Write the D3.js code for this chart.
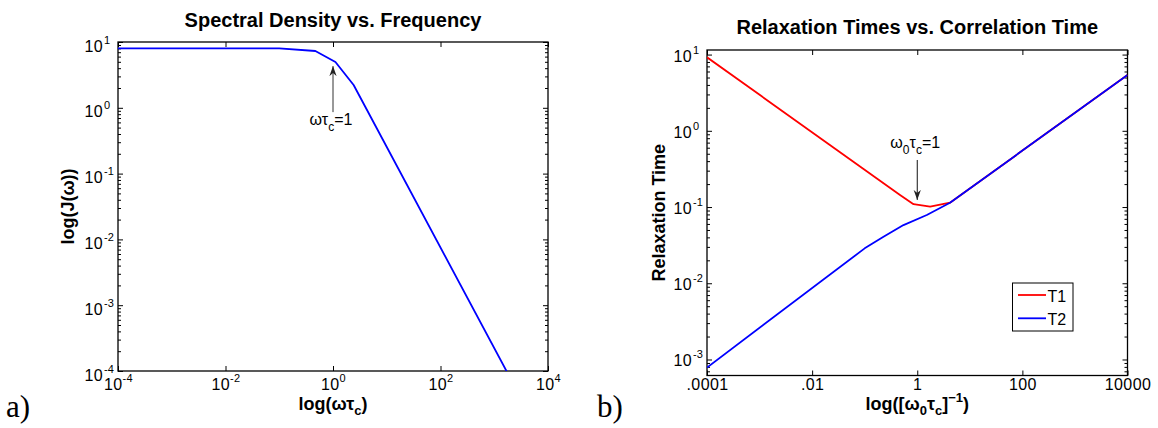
<!DOCTYPE html>
<html><head><meta charset="utf-8">
<script src="https://cdn.jsdelivr.net/npm/d3@7"></script>
<style>
body{margin:0;background:#fff;}
svg text{font-family:"Liberation Sans",Arial,Helvetica,sans-serif;fill:#000;}
</style></head><body>
<svg id="c" width="1158" height="428"></svg>
<script>
// ---- data ----
const specX = [1e-4, 0.1, 0.47, 1.11, 2.42, 1e4];
const specY = [8.0, 8.0, 7.3, 4.97, 2.22, 6.6e-6];
const t1X = [1e-4, 0.47, 0.85, 1.76, 4.2, 1e4];
const t1Y = [9.2, 0.144, 0.109, 0.101, 0.114, 5.4];
const t2X = [1e-4, 0.1, 0.228, 0.547, 1.52, 4.2, 1e4];
const t2Y = [7.85e-4, 0.0287, 0.0407, 0.058, 0.0785, 0.114, 5.4];
const leftXTicks = [1e-4, 1e-2, 1, 1e2, 1e4];
const leftXExp = ["-4", "-2", "0", "2", "4"];
const leftYTicks = [10, 1, 0.1, 0.01, 1e-3, 1e-4];
const leftYExp = ["1", "0", "-1", "-2", "-3", "-4"];
const rightXTicks = [1e-4, 1e-2, 1, 1e2, 1e4];
const rightXLabels = [".0001", ".01", "1", "100", "10000"];
const rightYTicks = [10, 1, 0.1, 0.01, 1e-3];
const rightYExp = ["1", "0", "-1", "-2", "-3"];
const seriesNames = ["T1", "T2"];
const seriesColors = ["#ff0000", "#0000ff"];

const svg = d3.select("#c");
const defs = svg.append("defs");
defs.append("marker").attr("id", "ah").attr("viewBox", "-10 -5 12 10")
  .attr("refX", 0).attr("refY", 0).attr("markerWidth", 12).attr("markerHeight", 10)
  .attr("markerUnits", "userSpaceOnUse").attr("orient", "auto")
  .append("path").attr("d", "M0,0 L-10,-3.6 L-7,0 L-10,3.6 Z").attr("fill", "#222");

function minorTicks(dom) {
  const out = [];
  for (let e = -7; e <= 3; e++) for (let m = 2; m <= 9; m++) {
    const v = m * Math.pow(10, e);
    if (v >= dom[0] && v <= dom[1]) out.push(v);
  }
  return out;
}

function panel(cfg) {
  const g = svg.append("g");
  const x = d3.scaleLog().domain(cfg.xDom).range([cfg.x0, cfg.x1]);
  const y = d3.scaleLog().domain(cfg.yDom).range([cfg.y1, cfg.y0]);
  const cid = "clip" + cfg.name;
  defs.append("clipPath").attr("id", cid).append("rect")
    .attr("x", cfg.x0).attr("y", cfg.y0).attr("width", cfg.x1 - cfg.x0).attr("height", cfg.y1 - cfg.y0);

  const style = sel => { sel.select(".domain").remove(); sel.selectAll(".tick line").attr("stroke", "#000").attr("stroke-width", 1); };
  const bx = g.append("g").attr("transform", `translate(0,${cfg.y1})`)
    .call(d3.axisBottom(x).tickValues(cfg.xTicks).tickSize(-5).tickSizeOuter(0).tickFormat(() => "")).call(style);
  g.append("g").attr("transform", `translate(0,${cfg.y0})`)
    .call(d3.axisTop(x).tickValues(cfg.xTicks).tickSize(-5).tickSizeOuter(0).tickFormat(() => "")).call(style);
  const ly = g.append("g").attr("transform", `translate(${cfg.x0},0)`)
    .call(d3.axisLeft(y).tickValues(cfg.yTicks).tickSize(-5).tickSizeOuter(0).tickFormat(() => "")).call(style);
  g.append("g").attr("transform", `translate(${cfg.x1},0)`)
    .call(d3.axisRight(y).tickValues(cfg.yTicks).tickSize(-5).tickSizeOuter(0).tickFormat(() => "")).call(style);
  const mn = minorTicks(cfg.yDom);
  g.append("g").attr("transform", `translate(${cfg.x0},0)`)
    .call(d3.axisLeft(y).tickValues(mn).tickSize(-3).tickSizeOuter(0).tickFormat(() => "")).call(style);
  g.append("g").attr("transform", `translate(${cfg.x1},0)`)
    .call(d3.axisRight(y).tickValues(mn).tickSize(-3).tickSizeOuter(0).tickFormat(() => "")).call(style);

  bx.selectAll(".tick text").each(function (d, i) {
    const t = d3.select(this).text(null).attr("dy", null).attr("y", cfg.y1 > 372 ? 14.5 : 19)
      .attr("font-size", 16).attr("text-anchor", "middle").attr("letter-spacing", 0.4);
    if (cfg.xLabels) { t.text(cfg.xLabels[i]); }
    else {
      t.append("tspan").text("10");
      t.append("tspan").attr("font-size", 11).attr("dy", -8).text(cfg.xExp[i]);
    }
  });
  ly.selectAll(".tick").each(function (d, i) {
    const tk = d3.select(this);
    tk.select("text").attr("x", -15).attr("dy", null).attr("y", cfg.yLabOff)
      .attr("font-size", 16).attr("text-anchor", "end").attr("letter-spacing", 0.4).text("10");
    tk.append("text").attr("x", -14).attr("y", cfg.yLabOff - 8).attr("font-size", 11)
      .attr("text-anchor", "start").text(cfg.yExp[i]);
  });

  g.append("rect").attr("x", cfg.x0).attr("y", cfg.y0).attr("width", cfg.x1 - cfg.x0).attr("height", cfg.y1 - cfg.y0)
    .attr("fill", "none").attr("stroke", "#000").attr("stroke-width", 1.3);

  const line = d3.line().x(d => x(d[0])).y(d => y(d[1]));
  const lg = g.append("g").attr("clip-path", `url(#${cid})`);
  cfg.series.forEach(s => {
    lg.append("path").datum(s.x.map((v, i) => [v, s.y[i]])).attr("d", line)
      .attr("fill", "none").attr("stroke", s.color).attr("stroke-width", 1.8).attr("stroke-linejoin", "round");
  });

  g.append("text").attr("x", (cfg.x0 + cfg.x1) / 2).attr("y", cfg.titleY).attr("text-anchor", "middle")
    .attr("font-size", 20).attr("font-weight", "bold").text(cfg.title);

  return { g, x, y };
}

// ---------- panel a ----------
const A = panel({
  name: "a", x0: 118, x1: 548, y0: 42, y1: 371,
  xDom: [1e-4, 1e4], yDom: [1e-4, 10], yLabOff: 9,
  xTicks: leftXTicks, xExp: leftXExp, yTicks: leftYTicks, yExp: leftYExp,
  series: [{ x: specX, y: specY, color: "#0000ff" }],
  title: "Spectral Density vs. Frequency", titleY: 27
});
A.g.append("text").attr("transform", `translate(74,${(42 + 371) / 2}) rotate(-90)`)
  .attr("text-anchor", "middle").attr("font-size", 18).attr("font-weight", "bold").text("log(J(ω))");
{
  const t = A.g.append("text").attr("x", (118 + 548) / 2).attr("y", 410).attr("text-anchor", "middle")
    .attr("font-size", 18).attr("font-weight", "bold");
  t.append("tspan").text("log(ωτ");
  t.append("tspan").attr("font-size", 13).attr("dy", 5).text("c");
  t.append("tspan").attr("dy", -5).text(")");
}
A.g.append("line").attr("x1", A.x(1)).attr("x2", A.x(1)).attr("y1", A.y(0.86)).attr("y2", A.y(4.3))
  .attr("stroke", "#333").attr("stroke-width", 1).attr("marker-end", "url(#ah)");
{
  const t = A.g.append("text").attr("x", A.x(1) - 2).attr("y", A.y(0.55)).attr("text-anchor", "middle").attr("font-size", 16);
  t.append("tspan").text("ωτ");
  t.append("tspan").attr("font-size", 12).attr("dy", 6).text("c");
  t.append("tspan").attr("dy", -6).text("=1");
}
svg.append("text").attr("x", 6).attr("y", 417)
  .style("font-family", "'Liberation Serif','DejaVu Serif',serif").attr("font-size", 31).text("a)");

// ---------- panel b ----------
const B = panel({
  name: "b", x0: 707, x1: 1127.5, y0: 50, y1: 375.5,
  xDom: [1e-4, 1e4], yDom: [Math.pow(10, -3.21), Math.pow(10, 1.06)], yLabOff: 6.5,
  xTicks: rightXTicks, xLabels: rightXLabels, yTicks: rightYTicks, yExp: rightYExp,
  series: [{ x: t1X, y: t1Y, color: seriesColors[0] }, { x: t2X, y: t2Y, color: seriesColors[1] }],
  title: "Relaxation Times vs. Correlation Time", titleY: 34
});
B.g.append("text").attr("transform", `translate(665,${(50 + 375.5) / 2}) rotate(-90)`)
  .attr("text-anchor", "middle").attr("font-size", 18).attr("font-weight", "bold").text("Relaxation Time");
{
  const t = B.g.append("text").attr("x", (707 + 1127.5) / 2).attr("y", 410).attr("text-anchor", "middle")
    .attr("font-size", 18).attr("font-weight", "bold");
  t.append("tspan").text("log([ω");
  t.append("tspan").attr("font-size", 13).attr("dy", 5).text("0");
  t.append("tspan").attr("dy", -5).text("τ");
  t.append("tspan").attr("font-size", 13).attr("dy", 5).text("c");
  t.append("tspan").attr("dy", -5).text("]");
  t.append("tspan").attr("font-size", 13).attr("dy", -8).text("−1");
  t.append("tspan").attr("dy", 8).text(")");
}
B.g.append("line").attr("x1", B.x(1)).attr("x2", B.x(1)).attr("y1", B.y(0.414)).attr("y2", B.y(0.124))
  .attr("stroke", "#111").attr("stroke-width", 1).attr("marker-end", "url(#ah)");
{
  const t = B.g.append("text").attr("x", B.x(1) - 2).attr("y", B.y(0.594)).attr("text-anchor", "middle").attr("font-size", 16);
  t.append("tspan").text("ω");
  t.append("tspan").attr("font-size", 12).attr("dy", 6).text("0");
  t.append("tspan").attr("dy", -6).text("τ");
  t.append("tspan").attr("font-size", 12).attr("dy", 6).text("c");
  t.append("tspan").attr("dy", -6).text("=1");
}
{
  const lx = 1127.5 - 54.5, ly = 283;
  const lg = B.g.append("g");
  lg.append("rect").attr("x", lx - 60.5).attr("y", ly).attr("width", 60.5).attr("height", 48)
    .attr("fill", "#fff").attr("stroke", "#000").attr("stroke-width", 1);
  seriesNames.forEach((n, i) => {
    const yy = ly + 12 + i * 23.3;
    lg.append("line").attr("x1", lx - 55).attr("x2", lx - 27).attr("y1", yy).attr("y2", yy)
      .attr("stroke", seriesColors[i]).attr("stroke-width", 1.8);
    lg.append("text").attr("x", lx - 25.5).attr("y", yy + 6.5).attr("font-size", 16).text(n);
  });
}
svg.append("text").attr("x", 597).attr("y", 417)
  .style("font-family", "'Liberation Serif','DejaVu Serif',serif").attr("font-size", 31).text("b)");
</script>
</body></html>
